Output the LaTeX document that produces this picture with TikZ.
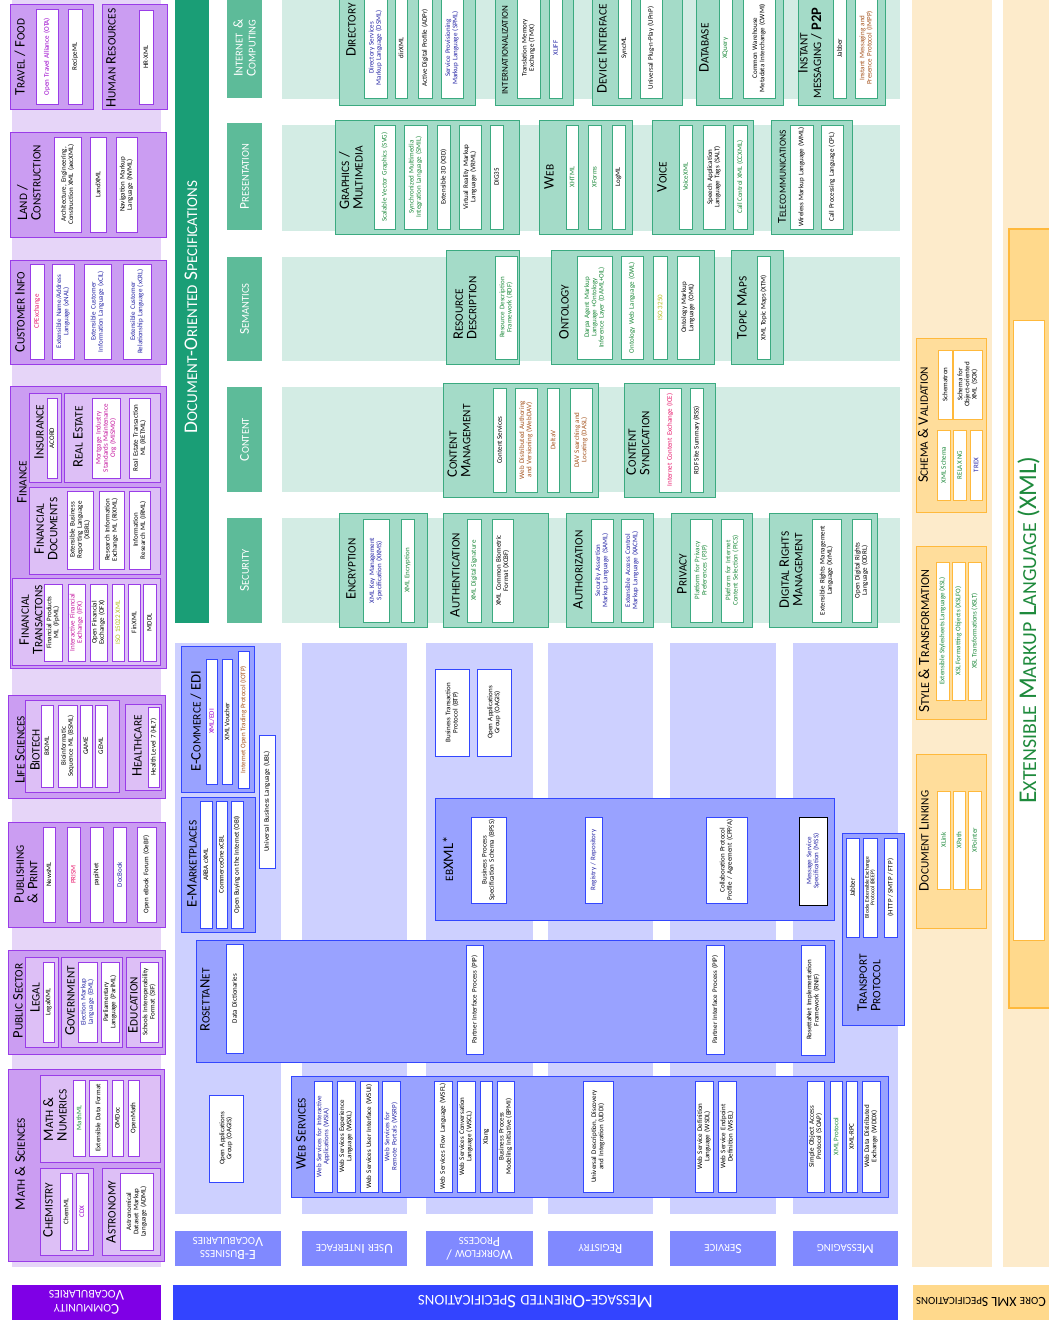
\documentclass[tikz,border=0pt]{standalone}
\usepackage{fontspec}
\setmainfont{Carlito}
\makeatletter
\newcommand\scsz{\fontsize{\strip@pt\dimexpr0.78\dimexpr\f@size pt\relax\relax}{\f@baselineskip}\selectfont}
\def\W#1{\W@#1\@nil}
\def\W@#1#2\@nil{#1{\scsz\MakeUppercase{#2}}}
\newcommand\SC[1]{{\scsz\MakeUppercase{#1}}}
\makeatother
\definecolor{pBG}{HTML}{E6D5F8}
\definecolor{pGrp}{HTML}{CB9DF2}
\definecolor{pSub}{HTML}{DDBFF6}
\definecolor{pLine}{HTML}{9A3CE8}
\definecolor{pDark}{HTML}{7F00E6}
\definecolor{gDark}{HTML}{1A9E76}
\definecolor{gMid}{HTML}{5DBB99}
\definecolor{gBG}{HTML}{D3ECE4}
\definecolor{gGrp}{HTML}{A4DBC8}
\definecolor{gLine}{HTML}{3BAA80}
\definecolor{bBG}{HTML}{CDD0FF}
\definecolor{bGrp}{HTML}{99A2FF}
\definecolor{bLab}{HTML}{8089FF}
\definecolor{bLine}{HTML}{3347FF}
\definecolor{bDark}{HTML}{3344FF}
\definecolor{yBG}{HTML}{FDEBCB}
\definecolor{yGrp}{HTML}{FFDD9B}
\definecolor{yLine}{HTML}{FFB93C}
\definecolor{yLab}{HTML}{FFD98C}
\definecolor{tBlue}{HTML}{2626A6}
\definecolor{tGreen}{HTML}{1E8A3C}
\definecolor{tPurple}{HTML}{9A00CC}
\definecolor{tRed}{HTML}{E8186C}
\definecolor{tBrown}{HTML}{A4521C}
\definecolor{tOlive}{HTML}{B3BE1E}
\definecolor{tMag}{HTML}{C4159E}
\newcommand\IT[7]{%
 \pgfmathsetmacro\cx{(#3+#5)/2}\pgfmathsetmacro\cy{(#4+#6)/2}%
 \pgfmathsetmacro\ww{#6-#4}\pgfmathsetmacro\hh{#5-#3}\pgfmathsetmacro\tw{#6-#4-3}%
 \pgfmathtruncatemacro\narrow{(#5-#3<16)?1:0}%
 \ifnum\narrow=1
 \node[#2, rotate=90, minimum width=\ww pt, minimum height=\hh pt] (#1) at (\cx,\cy) {#7};%
 \else
 \node[#2, rotate=90, minimum width=\ww pt, minimum height=\hh pt, text width=\tw pt] (#1) at (\cx,\cy) {#7};%
 \fi}
\newcommand\GR[5]{\path[#1] (#2,#3) rectangle (#4,#5);}
\newcommand\itfont{\fontsize{7}{7.2}\selectfont\hyphenpenalty=10000\exhyphenpenalty=10000 }
\begin{document}
\begin{tikzpicture}[x=1pt,y=-1pt,
 it/.style={draw,fill=white,line width=0.9pt,inner sep=0pt,align=center,font=\itfont,text=black},
 pit/.style={it,draw=pLine}, git/.style={it,draw=gLine}, bit/.style={it,draw=bLine}, yit/.style={it,draw=yLine},
 grpP/.style={fill=pGrp,draw=pLine,line width=1pt},
 subP/.style={fill=pSub,draw=pLine,line width=0.8pt},
 grpG/.style={fill=gGrp,draw=gLine,line width=1pt},
 grpB/.style={fill=bGrp,draw=bLine,line width=1pt},
 grpY/.style={fill=yGrp,draw=yLine,line width=1pt},
 hd/.style={inner sep=0pt,align=center,rotate=90,font=\fontsize{14.5}{13.5}\selectfont,text=black},
 hdl/.style={hd,align=left},
 catlab/.style={fill=gMid,inner sep=0pt,align=center,text=white,font=\fontsize{13.5}{13}\selectfont},
 collab/.style={fill=bLab,inner sep=0pt,align=center,text=white,rotate=180,font=\fontsize{14}{13}\selectfont},
]
\useasboundingbox (0,0) rectangle (1049,1328);
% ---------- backgrounds
\fill[pBG] (12,0) rectangle (161,1267);
\fill[gDark] (175,0) rectangle (209,623);
\fill[gBG] (282,0) rectangle (900,99);
\fill[gBG] (282,125) rectangle (900,231);
\fill[gBG] (282,257) rectangle (900,361);
\fill[gBG] (282,387) rectangle (900,492);
\fill[gBG] (282,518) rectangle (900,623);
\fill[bBG] (175,643) rectangle (281,1214);
\fill[bBG] (302,643) rectangle (407,1214);
\fill[bBG] (426,643) rectangle (533,1214);
\fill[bBG] (548,643) rectangle (653,1214);
\fill[bBG] (670,643) rectangle (776,1214);
\fill[bBG] (793,643) rectangle (898,1214);
\fill[yBG] (912,0) rectangle (992,1267);
\fill[yBG] (1003,0) rectangle (1049,1267);
% ---------- bottom labels
\node[fill=pDark,minimum width=149pt,minimum height=35pt,inner sep=0pt,rotate=180,text=white,align=center,font=\fontsize{15}{14}\selectfont] (lblCV) at (86.5,1302) {\W{Community}\\\W{Vocabularies}};
\node[fill=bDark,minimum width=725pt,minimum height=35pt,inner sep=0pt,rotate=180,text=white,font=\fontsize{19}{20}\selectfont] (lblMO) at (535.5,1302) {\W{Message}-\W{Oriented} \W{Specifications}};
\node[fill=yLab,minimum width=136pt,minimum height=35pt,inner sep=0pt,rotate=180,text=black,font=\fontsize{14}{14}\selectfont] (lblCX) at (981,1302) {\W{Core} XML \W{Specifications}};
\node[collab,minimum width=106pt,minimum height=35pt] (lEB) at (228,1248.5) {\W{E}-\W{Business}\\\W{Vocabularies}};
\node[collab,minimum width=105pt,minimum height=35pt] (lUI) at (354.5,1248.5) {\W{User} \W{Interface}};
\node[collab,minimum width=107pt,minimum height=35pt] (lWF) at (479.5,1248.5) {\W{Workflow} /\\\W{Process}};
\node[collab,minimum width=105pt,minimum height=35pt] (lRG) at (600.5,1248.5) {\W{Registry}};
\node[collab,minimum width=106pt,minimum height=35pt] (lSV) at (723,1248.5) {\W{Service}};
\node[collab,minimum width=105pt,minimum height=35pt] (lMS) at (845.5,1248.5) {\W{Messaging}};
% ---------- document-oriented
\node[rotate=90,text=white,inner sep=0pt,font=\fontsize{19.3}{20}\selectfont] (docspec) at (191,307) {\W{Document}-\W{Oriented} \W{Specifications}};
\IT{catIC}{catlab}{227}{-2}{262}{98}{\W{Internet} \&\\\W{Computing}}
\IT{catPR}{catlab}{227}{123}{262}{230}{\W{Presentation}}
\IT{catSE}{catlab}{227}{257}{262}{361}{\W{Semantics}}
\IT{catCO}{catlab}{227}{387}{262}{492}{\W{Content}}
\IT{catSC}{catlab}{227}{518}{262}{623}{\W{Security}}
% ---------- XML core
\path[fill=yLab,draw=yLine,line width=1.2pt] (1009,229) rectangle (1053,1008);
\node[draw=yLine,line width=1pt,fill=white,rotate=90,minimum width=620pt,minimum height=31pt,inner sep=0pt,text=tGreen,font=\fontsize{25.5}{28}\selectfont] (xml) at (1028.5,630) {\W{Extensible} \W{Markup} \W{Language} (XML)};
% ================= PURPLE: community vocabularies
\GR{grpP}{10}{4}{93}{109}
\node[hd] (hTF) at (20,57) {\W{Travel} / \W{Food}};
\IT{ota}{pit,text=tPurple}{36}{9}{58}{104}{Open Travel Alliance (OTA)}
\IT{recipe}{pit}{68}{9}{82}{104}{RecipeML}
\GR{grpP}{102}{4}{167}{109}
\node[hd] (hHR) at (111,58) {\W{Human} \W{Resources}};
\IT{hrxml}{pit}{139}{10}{153}{104}{HR-XML}
\GR{grpP}{10}{132}{166}{237}
\node[hdl] (hLC) at (29,183) {\W{Land} /\\\W{Construction}};
\IT{aec}{pit}{54}{137}{81}{232}{Architecture, Engineering, Construction XML (aecXML)}
\IT{landxml}{pit}{90}{137}{106}{232}{LandXML}
\IT{nvml}{pit}{116}{137}{137}{232}{Navigation Markup Language (NVML)}
\GR{grpP}{10}{260}{166}{364}
\node[hd] (hCI) at (20,312) {\W{Customer} \W{Info}};
\IT{cpx}{pit,text=tRed}{30}{264}{44}{359}{CPExchange}
\IT{xnal}{pit,text=tBlue}{52}{264}{74}{359}{Extensible Name/Address Language (xNAL)}
\IT{xcil}{pit,text=tBlue}{84}{264}{111}{359}{Extensible Customer Information Language (xCIL)}
\IT{xcrl}{pit,text=tBlue}{123}{264}{151}{359}{Extensible Customer Relationship Language (xCRL)}
\GR{grpP}{10}{386}{166}{668}
\node[hd] (hFI) at (22,482) {\W{Finance}};
\GR{subP}{29}{393}{61}{482}
\node[hd] (hIN) at (39,432) {\W{Insurance}};
\IT{acord}{pit}{47}{398}{57}{478}{ACORD}
\GR{subP}{64}{393}{160}{482}
\node[hd] (hRE) at (78,437) {\W{Real} \W{Estate}};
\IT{mismo}{pit,text=tMag}{92}{398}{120}{478}{Mortgage Industry Standards Maintenance Org (MISMO)}
\IT{retml}{pit}{129}{398}{150}{478}{Real Estate Transaction ML (RETML)}
\GR{subP}{29}{487}{160}{574}
\node[hd] (hFD) at (46,529) {\W{Financial}\\\W{Documents}};
\IT{xbrl}{pit}{67}{491}{93}{569}{Extensible Business\\Reporting Language\\(XBRL)}
\IT{rixml}{pit}{99}{491}{124}{569}{Research Information Exchange ML (RIXML)}
\IT{irml}{pit}{129}{491}{150}{569}{Information Research ML (IRML)}
\GR{subP}{12}{578}{160}{665}
\node[hd] (hFT) at (31,620) {\W{Financial}\\\W{Transactons}};
\IT{fpml}{pit}{44}{584}{62}{661}{Financial Products ML (FpML)}
\IT{ifx}{pit,text=tMag}{68}{584}{85}{661}{Interactive Financial Exchange (IFX)}
\IT{ofx}{pit}{90}{584}{107}{661}{Open Financial Exchange (OFX)}
\IT{iso15022}{pit,text=tOlive}{112}{584}{124}{661}{ISO 15022 XML}
\IT{finxml}{pit}{128}{584}{140}{661}{FinXML}
\IT{mddl}{pit}{143}{584}{156}{661}{MDDL}
\GR{grpP}{8}{695}{165}{798}
\node[hd] (hLS) at (20,750) {\W{Life} \W{Sciences}};
\GR{subP}{25}{700}{119}{792}
\node[hd] (hBT) at (35,750) {\W{Biotech}};
\IT{bioml}{pit}{41}{705}{53}{787}{BIOML}
\IT{bsml}{pit}{58}{705}{77}{787}{Bioinformatic Sequence ML (BSML)}
\IT{game}{pit}{80}{705}{92}{787}{GAME}
\IT{geml}{pit}{95}{705}{107}{787}{GEML}
\GR{subP}{125}{704}{161}{790}
\node[hd] (hHC) at (137,746) {\W{Healthcare}};
\IT{hl7}{pit}{148}{707}{159}{787}{Health Level 7 (HL7)}
\GR{grpP}{8}{822}{165}{927}
\node[hdl] (hPP) at (26,874) {\W{Publishing}\\\& \W{Print}};
\IT{newsml}{pit}{43}{827}{55}{922}{NewsML}
\IT{prism}{pit,text=tRed}{67}{827}{80}{922}{PRISM}
\IT{papinet}{pit}{90}{827}{103}{922}{papiNet}
\IT{docbook}{pit,text=tBlue}{113}{827}{126}{922}{DocBook}
\IT{oebf}{pit}{137}{827}{156}{922}{Open eBook Forum (OeBF)}
\GR{grpP}{8}{950}{165}{1054}
\node[hd] (hPS) at (18,1001) {\W{Public} \W{Sector}};
\GR{subP}{25}{957}{58}{1047}
\node[hd] (hLG) at (35,998) {\W{Legal}};
\IT{legalxml}{pit}{43}{962}{54}{1042}{LegalXML}
\GR{subP}{61}{957}{122}{1047}
\node[hd] (hGV) at (70,1001) {\W{Government}};
\IT{eml}{pit,text=tBlue}{78}{962}{97}{1042}{Election Markup Language (EML)}
\IT{parlml}{pit}{101}{962}{119}{1042}{Parliamentary Language (ParlML)}
\GR{subP}{126}{957}{162}{1047}
\node[hd] (hED) at (133,1005) {\W{Education}};
\IT{sif}{pit}{140}{962}{158}{1042}{Schools Interoperability Format (SIF)}
\GR{grpP}{8}{1069}{164}{1261}
\node[hd] (hMS) at (20,1164) {\W{Math} \& \W{Sciences}};
\GR{subP}{40}{1075}{160}{1162}
\node[hdl] (hMN) at (55,1115) {\W{Math} \&\\\W{Numerics}};
\IT{mathml}{pit,text=tGreen}{73}{1080}{85}{1156}{MathML}
\IT{edf}{pit}{89}{1080}{107}{1156}{Extensible Data Format}
\IT{omdoc}{pit}{112}{1080}{123}{1156}{OMDoc}
\IT{openmath}{pit}{128}{1080}{139}{1156}{OpenMath}
\GR{subP}{40}{1168}{93}{1255}
\node[hd] (hCH) at (48,1210) {\W{Chemistry}};
\IT{chemml}{pit}{60}{1173}{72}{1250}{ChemML}
\IT{cdx}{pit,text=tPurple}{76}{1173}{88}{1250}{CDX}
\GR{subP}{102}{1168}{160}{1255}
\node[hd] (hAS) at (111,1212) {\W{Astronomy}};
\IT{adml}{pit}{120}{1173}{153}{1250}{Astronomical Dataset Markup Language (ADML)}
% ================= GREEN
\GR{grpG}{339}{-5}{475}{105}
\node[hd] (hDI) at (351,30) {\W{Directory}};
\IT{dsml}{git,text=tBlue}{364}{-2}{387}{98}{Directory Services Markup Language (DSML)}
\IT{dirxml}{git}{395}{-2}{407}{98}{dirXML}
\IT{adpr}{git}{418}{-2}{432}{98}{Active Digital Profile (ADPr)}
\IT{spml}{git,text=tBlue}{441}{-2}{463}{98}{Service Provisioning Markup Language (SPML)}
\GR{grpG}{495}{-5}{573}{105}
\node[hd,font=\fontsize{11.5}{12}\selectfont] (hIL) at (505,50) {\SC{Internationalization}};
\IT{tmx}{git}{517}{-2}{540}{98}{Translation Memory Exchange (TMX)}
\IT{xliff}{git,text=tBlue}{549}{-2}{562}{98}{XLIFF}
\GR{grpG}{592}{-5}{682}{105}
\node[hd] (hDV) at (602,49) {\W{Device} \W{Interface}};
\IT{syncml}{git}{618}{-2}{631}{98}{SyncML}
\IT{upnp}{git}{640}{-2}{662}{98}{Universal Plug-n-Play (UPnP)}
\GR{grpG}{696}{-5}{783}{105}
\node[hd] (hDB) at (704,48) {\W{Database}};
\IT{xquery}{git,text=tGreen}{719}{-2}{732}{98}{XQuery}
\IT{cwmi}{git}{743}{-2}{775}{98}{Common Warehouse Metadata Interchange (CWMI)}
\GR{grpG}{798}{-5}{885}{105}
\node[hd] (hIM) at (810,53) {\W{Instant}\\\SC{Messaging} / \textbf{P2P}};
\IT{jabber1}{git}{833}{-2}{846}{98}{Jabber}
\IT{impp}{git,text=tBrown}{855}{-2}{877}{98}{Instant Messaging and Presence Protocol (IMPP)}
\GR{grpG}{335}{120}{519}{234}
\node[hdl] (hGM) at (351,178) {\W{Graphics} /\\\W{Multimedia}};
\IT{svg}{git,text=tGreen}{374}{125}{395}{229}{Scalable Vector Graphics (SVG)}
\IT{smil}{git,text=tGreen}{404}{125}{427}{229}{Synchronized Multimedia Integration Language (SMIL)}
\IT{x3d}{git}{437}{125}{450}{229}{Extensible 3D (X3D)}
\IT{vrml}{git}{459}{125}{481}{229}{Virtual Reality Markup Language (VRML)}
\IT{dig35}{git}{490}{125}{503}{229}{DIG35}
\GR{grpG}{539}{120}{632}{234}
\node[hd] (hWB) at (549,177) {\W{Web}};
\IT{xhtml}{git,text=tGreen}{566}{125}{578}{229}{XHTML}
\IT{xforms}{git,text=tGreen}{588}{125}{601}{229}{XForms}
\IT{logml}{git}{612}{125}{625}{229}{LogML}
\GR{grpG}{652}{120}{753}{234}
\node[hd] (hVO) at (662,177) {\W{Voice}};
\IT{voicexml}{git,text=tGreen}{679}{125}{692}{229}{VoiceXML}
\IT{salt}{git}{703}{125}{725}{229}{Speech Application Language Tags (SALT)}
\IT{ccxml}{git,text=tGreen}{733}{125}{747}{229}{Call Control XML (CCXML)}
\GR{grpG}{771}{120}{852}{234}
\node[hd,font=\fontsize{12}{12}\selectfont] (hTC) at (782,177) {\W{Telecommunications}};
\IT{wml}{git}{790}{125}{813}{229}{Wireless Markup Language (WML)}
\IT{cpl}{git}{821}{125}{843}{229}{Call Processing Language (CPL)}
\GR{grpG}{446}{250}{519}{364}
\node[hdl] (hRD) at (465,308) {\W{Resource}\\\W{Description}};
\IT{rdf}{git,text=tGreen}{495}{256}{517}{359}{Resource Description Framework (RDF)}
\GR{grpG}{551}{250}{714}{364}
\node[hd] (hON) at (564,312) {\W{Ontology}};
\IT{daml}{git,text=tGreen}{577}{256}{612}{359}{Darpa Agent Markup Language +Ontology Inference Layer (DAML+OIL)}
\IT{owl}{git,text=tGreen}{621}{256}{643}{359}{Ontology Web Language (OWL)}
\IT{iso3250}{git,text=tOlive}{653}{256}{667}{359}{ISO 3250}
\IT{oml}{git}{677}{256}{699}{359}{Ontology Markup Language (OML)}
\GR{grpG}{731}{250}{783}{364}
\node[hd] (hTM) at (742,308) {\W{Topic} \W{Maps}};
\IT{xtm}{git}{757}{256}{770}{359}{XML Topic Maps (XTM)}
\GR{grpG}{443}{383}{598}{497}
\node[hdl] (hCM) at (459,441) {\W{Content}\\\W{Management}};
\IT{cs}{git}{493}{388}{506}{492}{Content Services}
\IT{webdav}{git,text=tBrown}{515}{388}{537}{492}{Web Distributed Authoring and Versioning (WebDAV)}
\IT{deltav}{git,text=tBrown}{547}{388}{559}{492}{DeltaV}
\IT{dasl}{git,text=tBrown}{570}{388}{592}{492}{DAV Searching and Locating (DASL)}
\GR{grpG}{624}{383}{715}{497}
\node[hdl] (hCS) at (638,443) {\W{Content}\\\W{Syndication}};
\IT{ice}{git,text=tRed}{659}{388}{681}{492}{Internet Content Exchange (ICE)}
\IT{rss}{git}{690}{388}{703}{492}{RDF Site Summary (RSS)}
\GR{grpG}{339}{513}{427}{627}
\node[hd] (hEN) at (351,569) {\W{Encryption}};
\IT{xkms}{git,text=tBlue}{363}{519}{389}{622}{XML Key Management Specification (XKMS)}
\IT{xmlenc}{git,text=tGreen}{401}{519}{414}{622}{XML Encryption}
\GR{grpG}{443}{513}{548}{627}
\node[hd] (hAN) at (455,575) {\W{Authentication}};
\IT{xmldsig}{git,text=tGreen}{467}{519}{481}{622}{XML Digital Signature}
\IT{xcbf}{git}{492}{519}{513}{622}{XML Common Biometric Format (XCBF)}
\GR{grpG}{566}{513}{653}{627}
\node[hd] (hAZ) at (578,570) {\W{Authorization}};
\IT{saml}{git,text=tBlue}{591}{519}{613}{622}{Security Assertion Markup Language (SAML)}
\IT{xacml}{git,text=tBlue}{621}{519}{643}{622}{Extensible Access Control Markup Language (XACML)}
\GR{grpG}{671}{513}{752}{627}
\node[hd] (hPV) at (682,574) {\W{Privacy}};
\IT{p3p}{git,text=tGreen}{690}{519}{712}{622}{Platform for Privacy Preferences (P3P)}
\IT{pics}{git,text=tGreen}{721}{519}{743}{622}{Platform for Internet Content Selection (PICS)}
\GR{grpG}{769}{513}{877}{627}
\node[hd] (hDR) at (791,570) {\W{Digital} \W{Rights}\\\W{Management}};
\IT{xrml}{git}{812}{519}{841}{622}{Extensible Rights Management Language (XrML)}
\IT{odrl}{git}{852}{519}{871}{622}{Open Digital Rights Language (ODRL)}
% ================= YELLOW
\GR{grpY}{916}{338}{986}{512}
\node[hd] (hSV) at (923,425) {\W{Schema} \& \W{Validation}};
\IT{schematron}{yit}{938}{350}{952}{419}{Schematron}
\IT{sox}{yit}{953}{350}{982}{419}{Schema for Object-oriented XML (SOX)}
\IT{xmlschema}{yit,text=tGreen}{937}{430}{950}{500}{XML Schema}
\IT{relaxng}{yit,text=tGreen}{953}{430}{966}{500}{RELAX NG}
\IT{trex}{yit,text=tBlue}{970}{430}{982}{500}{TREX}
\GR{grpY}{916}{546}{986}{719}
\node[hd,font=\fontsize{15.5}{14}\selectfont] (hST) at (924,641) {\W{Style} \& \W{Transformation}};
\IT{xsl}{yit,text=tGreen}{936}{562}{949}{700}{Extensible Stylesheets Language (XSL)}
\IT{xslfo}{yit,text=tGreen}{952}{562}{965}{700}{XSL Formatting Objects (XSLFO)}
\IT{xslt}{yit,text=tGreen}{968}{562}{981}{700}{XSL Transformations (XSLT)}
\GR{grpY}{916}{754}{986}{928}
\node[hd] (hDL) at (924,841) {\W{Document} \W{Linking}};
\IT{xlink}{yit,text=tGreen}{937}{791}{950}{889}{XLink}
\IT{xpath}{yit,text=tGreen}{953}{791}{965}{889}{XPath}
\IT{xpointer}{yit,text=tGreen}{968}{791}{981}{889}{XPointer}
% ================= BLUE
\GR{grpB}{181}{646}{254}{792}
\node[hd] (hEC) at (196,721) {\W{E}-\W{Commerce} / EDI};
\IT{xmledi}{bit,text=tPurple}{206}{659}{217}{784}{XML/EDI}
\IT{voucher}{bit}{222}{659}{232}{784}{XML Voucher}
\IT{iotp}{bit,text=tBrown}{238}{651}{249}{788}{Internet Open Trading Protocol (IOTP)}
\GR{grpB}{181}{797}{255}{932}
\node[hd] (hEM) at (192,864) {\W{E}-\W{Marketplaces}};
\IT{arba}{bit}{200}{801}{212}{928}{ARBA cXML}
\IT{xcbl}{bit}{216}{801}{227}{928}{CommerceOne xCBL}
\IT{obi}{bit}{231}{801}{243}{928}{Open Buying on the Internet (OBI)}
\IT{ubl}{bit}{259}{735}{275}{868}{Universal Business Language (UBL)}
\IT{btp}{bit}{435}{669}{469}{756}{Business Transaction Protocol (BTP)}
\IT{oagis1}{bit}{477}{669}{511}{756}{Open Applications Group (OAGIS)}
\GR{grpB}{435}{798}{834}{920}
\node[hd] (hEB) at (448,859) {\SC{eb}XML*};
\IT{bpss}{bit}{471}{817}{506}{903}{Business Process Specification Schema (BPSS)}
\IT{regrep}{bit,text=tBlue}{585}{817}{602}{903}{Registry / Repository}
\IT{cppa}{bit}{706}{817}{747}{903}{Collaboration Protocol Profile / Agreement (CPP/A)}
\IT{mss}{it,text=tBlue}{799}{817}{827}{905}{Message Service Specification (MSS)}
\GR{grpB}{196}{940}{834}{1062}
\node[hd] (hRN) at (205,1000) {\W{Rosetta}\W{Net}};
\IT{dd}{bit}{226}{944}{243}{1053}{Data Dictionaries}
\IT{pip1}{bit}{466}{945}{483}{1054}{Partner Interface Process (PIP)}
\IT{pip2}{bit}{706}{945}{724}{1054}{Partner Interface Process (PIP)}
\IT{rnif}{bit}{801}{945}{825}{1055}{RosettaNet Implementation Framework (RNIF)}
\GR{grpB}{842}{833}{904}{1025}
\node[hdl] (hTP) at (869,983) {\W{Transport}\\\W{Protocol}};
\IT{jabber2}{bit}{846}{838}{859}{937}{Jabber}
\IT{beep}{bit,font=\fontsize{5.6}{5.6}\selectfont}{863}{838}{877}{937}{Blocks Extensible Exchange\\Protocol (BEEP)}
\IT{http}{bit}{884}{838}{897}{937}{(HTTP / SMTP / FTP)}
\IT{oagis2}{bit}{209}{1095}{243}{1182}{Open Applications Group (OAGIS)}
\GR{grpB}{291}{1076}{888}{1197}
\node[hd] (hWS) at (301,1134) {\W{Web} \W{Services}};
\IT{wsia}{bit,text=tBlue}{314}{1081}{332}{1192}{Web Services for Interactive Applications (WSIA)}
\IT{wsxl}{bit}{337}{1081}{355}{1192}{Web Services Experience Language (WSXL)}
\IT{wsui}{bit}{360}{1081}{378}{1192}{Web Services User Interface (WSUI)}
\IT{wsrp}{bit,text=tBlue}{382}{1081}{400}{1192}{Web Services for Remote Portals (WSRP)}
\IT{wsfl}{bit}{434}{1081}{452}{1192}{Web Services Flow Language (WSFL)}
\IT{wscl}{bit}{457}{1081}{475}{1192}{Web Services Conversation Language (WSCL)}
\IT{xlang}{bit}{480}{1081}{492}{1192}{Xlang}
\IT{bpmi}{bit}{497}{1081}{514}{1192}{Business Process Modeling Initiative (BPMI)}
\IT{uddi}{bit}{583}{1081}{613}{1192}{Universal Description, Discovery and Integration (UDDI)}
\IT{wsdl}{bit}{695}{1081}{713}{1192}{Web Service Definition Language (WSDL)}
\IT{wsel}{bit}{718}{1081}{736}{1192}{Web Service Endpoint Definition (WSEL)}
\IT{soap}{bit}{807}{1081}{824}{1192}{Simple Object Access Protocol (SOAP)}
\IT{xmlp}{bit,text=tGreen}{830}{1081}{842}{1192}{XML Protocol}
\IT{xmlrpc}{bit}{846}{1081}{857}{1192}{XML-RPC}
\IT{wddx}{bit}{862}{1081}{880}{1192}{Web Data Distributed Exchange (WDDX)}
\end{tikzpicture}
\end{document}
